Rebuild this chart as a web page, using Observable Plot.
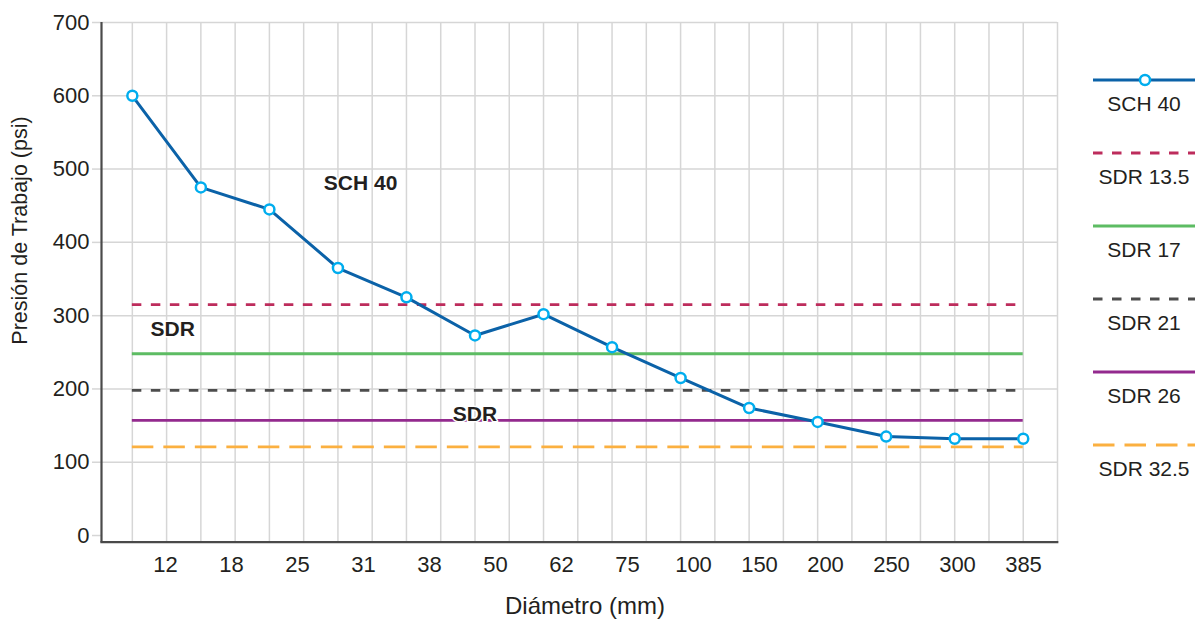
<!DOCTYPE html>
<html>
<head>
<meta charset="utf-8">
<script src="https://cdn.jsdelivr.net/npm/d3@7"></script>
<script src="https://cdn.jsdelivr.net/npm/@observablehq/plot@0.6"></script>
<style>
  html, body { margin: 0; padding: 0; background: #fff; }
  #wrap { position: relative; width: 1195px; height: 620px; font-family: "Liberation Sans", Arial, sans-serif; }
  #wrap > * { position: absolute; }
</style>
</head>
<body>
<div id="wrap"></div>
<script>
// ---------- data ----------
const diameters = ["12", "18", "25", "31", "38", "50", "62", "75", "100", "150", "200", "250", "300", "385"];
const sch40 = [600, 475, 445, 365, 325, 273, 302, 257, 215, 174, 155, 135, 132, 132];
const sdrNames = ["SDR 13.5", "SDR 17", "SDR 21", "SDR 26", "SDR 32.5"];
const sdrValues = [315, 248, 198, 157, 121];
const yTicks = [0, 100, 200, 300, 400, 500, 600, 700];
const annotationTexts = ["SCH 40", "SDR", "SDR"];
const annotationX = [3.33, 0.59, 5.0];     // in category-index units
const annotationY = [480, 281, 165];       // in psi
const legendNames = ["SCH 40", ...sdrNames];
const xTitle = "Diámetro (mm)";
const yTitle = "Presión de Trabajo (psi)";

// ---------- styles ----------
const font = "Liberation Sans, Arial, Helvetica, sans-serif";
const textColor = "#231f20";
const gridColor = "#d6d6d6";
const axisColor = "#4a4a4a";
const schStyle = {stroke: "#0b62a8", dot: "#00adee"};
const sdrStyles = [
  {stroke: "#bd2c5c", dash: "9.5,9.5"},
  {stroke: "#5dbc63", dash: null},
  {stroke: "#4d4d4d", dash: "9.5,9.5"},
  {stroke: "#932a8e", dash: null},
  {stroke: "#fbb040", dash: "21.5,10"}
];

const schData = diameters.map((d, i) => ({i, label: d, value: sch40[i]}));
const annData = annotationTexts.map((t, k) => ({text: t, x: annotationX[k], y: annotationY[k]}));

const W = 1195, H = 620;
const yMin = -9.1;

const main = Plot.plot({
  width: W,
  height: H,
  marginTop: 22,
  marginLeft: 101,
  marginRight: 138,
  marginBottom: 78.3,
  style: {fontFamily: font, fontSize: "22px", background: "transparent"},
  x: {type: "linear", domain: [-0.45, 13.5], axis: null},
  y: {type: "linear", domain: [yMin, 700], axis: null},
  marks: [
    // vertical grid (every half category)
    Plot.ruleX(d3.range(0, 13.51, 0.5), {stroke: gridColor, strokeWidth: 1.5}),
    // horizontal grid
    Plot.ruleY(yTicks.filter(v => v > 0), {stroke: gridColor, strokeWidth: 1.5}),
    Plot.axisY({
      ticks: yTicks, tickSize: 9, tickPadding: 3, stroke: gridColor, strokeWidth: 1.5,
      fill: textColor, fontSize: 22, label: null, tickFormat: d => String(d)
    }),
    // axis lines
    Plot.ruleX([-0.45], {stroke: axisColor, strokeWidth: 2.2}),
    Plot.ruleY([yMin], {x1: -0.46, x2: 13.52, stroke: axisColor, strokeWidth: 2.2}),
    // SDR horizontal lines
    ...sdrValues.map((v, k) => Plot.ruleY([v], {
      x1: 0, x2: 13, stroke: sdrStyles[k].stroke, strokeWidth: 2.8,
      strokeDasharray: sdrStyles[k].dash
    })),
    // annotations
    Plot.text(annData, {
      x: "x", y: "y", text: "text", fontSize: 21, fontWeight: "bold", fill: textColor,
      stroke: "white", strokeWidth: 3, paintOrder: "stroke"
    }),
    // SCH 40 series
    Plot.line(schData, {x: "i", y: "value", stroke: schStyle.stroke, strokeWidth: 3}),
    Plot.dot(schData, {x: "i", y: "value", r: 5, fill: "white", stroke: schStyle.dot, strokeWidth: 2.5})
  ]
});
main.style.left = "0px";
main.style.top = "0px";
document.getElementById("wrap").appendChild(main);

// x tick labels: evenly spaced category axis
const xlab = Plot.plot({
  width: W,
  height: 50,
  marginTop: 0,
  marginBottom: 49,
  marginLeft: 160,
  marginRight: 167,
  style: {fontFamily: font, fontSize: "22px", background: "transparent", overflow: "visible"},
  x: {type: "point", domain: diameters, padding: 0},
  marks: [
    Plot.axisX({tickSize: 0, tickPadding: 12, fontSize: 22, fill: textColor, label: null})
  ]
});
xlab.style.left = "0px";
xlab.style.top = "542.7px";
document.getElementById("wrap").appendChild(xlab);

// overlay: axis titles and legend
const svg = d3.select("#wrap").append("svg")
  .attr("width", W).attr("height", H)
  .style("left", "0px").style("top", "0px")
  .style("font-family", font);

svg.append("text")
  .attr("transform", "translate(26.5,230.5) rotate(-90)")
  .attr("text-anchor", "middle")
  .attr("font-size", 21.5)
  .attr("fill", textColor)
  .text(yTitle);

svg.append("text")
  .attr("x", 585).attr("y", 614)
  .attr("text-anchor", "middle")
  .attr("font-size", 24)
  .attr("fill", textColor)
  .text(xTitle);

const legendX1 = 1093, legendX2 = 1195, legendTextX = 1144, legendTop = 80, legendStep = 73;
const legendStyles = [{stroke: schStyle.stroke, dash: null}, ...sdrStyles];
legendNames.forEach((name, k) => {
  const y = legendTop + k * legendStep;
  svg.append("line")
    .attr("x1", legendX1).attr("x2", legendX2).attr("y1", y).attr("y2", y)
    .attr("stroke", legendStyles[k].stroke).attr("stroke-width", 3)
    .attr("stroke-dasharray", legendStyles[k].dash);
  if (k === 0) {
    svg.append("circle").attr("cx", legendTextX + 1).attr("cy", y).attr("r", 5)
      .attr("fill", "white").attr("stroke", schStyle.dot).attr("stroke-width", 2.5);
  }
  svg.append("text")
    .attr("x", legendTextX).attr("y", y + 23.5)
    .attr("dy", "0.35em")
    .attr("text-anchor", "middle")
    .attr("font-size", 21)
    .attr("fill", textColor)
    .text(name);
});
</script>
</body>
</html>
